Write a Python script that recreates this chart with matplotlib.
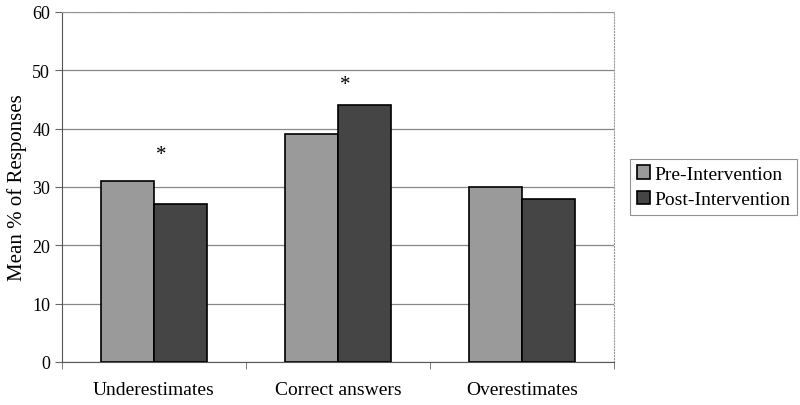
import numpy as np
import matplotlib.pyplot as plt

# data
categories = ["Underestimates", "Correct answers", "Overestimates"]
pre = [31, 39, 30]
post = [27, 44, 28]
series_names = ["Pre-Intervention", "Post-Intervention"]
star_cats = [0, 1]
star_y = [35.5, 47.5]

plt.rcParams['font.family'] = ['Liberation Serif', 'DejaVu Serif']

fig = plt.figure(figsize=(8, 4.06), dpi=100)
ax = fig.add_axes([0.0775, 0.106, 0.69, 0.862])

x = np.arange(len(categories))
w = 0.29
ax.bar(x - w/2, pre, w, color='#9a9a9a', edgecolor='black', linewidth=1.2,
       label=series_names[0], zorder=3)
ax.bar(x + w/2, post, w, color='#454545', edgecolor='black', linewidth=1.2,
       label=series_names[1], zorder=3)

for c, yv in zip(star_cats, star_y):
    ax.text(c + 0.04, yv, "*", ha='center', va='center', fontsize=15)

ax.set_xlim(-0.5, 2.5)
ax.set_ylim(0, 60)
ax.set_yticks(range(0, 61, 10))
ax.yaxis.grid(True, color='#888888', linewidth=0.9, zorder=0)
ax.set_xticks(x)
ax.set_xticklabels(categories, fontsize=14)
ax.set_xticks([-0.5, 0.5, 1.5, 2.5], minor=True)
ax.tick_params(axis='x', which='major', length=0, pad=14)
ax.tick_params(axis='x', which='minor', length=5, color='#666666')
ax.tick_params(axis='y', labelsize=13, length=5, color='#666666')
ax.set_ylabel("Mean % of Responses", fontsize=15)

for side in ['top', 'right']:
    ax.spines[side].set_color('#999999')
    ax.spines[side].set_linestyle(':')
for side in ['left', 'bottom']:
    ax.spines[side].set_color('#555555')

leg = ax.legend(loc='center left', bbox_to_anchor=(1.018, 0.5), fontsize=14,
                frameon=True, fancybox=False, handlelength=0.7, handleheight=0.7,
                handletextpad=0.2, borderpad=0.35, borderaxespad=0.3,
                labelspacing=0.4)
leg.get_frame().set_edgecolor('#777777')
leg.get_frame().set_linewidth(0.8)

fig.savefig("out.png", dpi=100)
